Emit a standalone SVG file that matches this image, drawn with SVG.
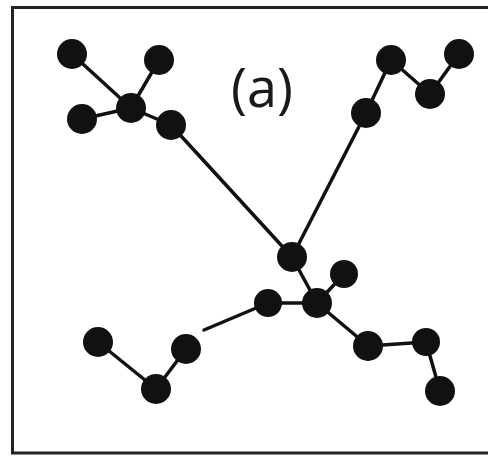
<svg xmlns="http://www.w3.org/2000/svg" width="488" height="459" viewBox="0 0 488 459">
<style>
.n{fill:#111}
.e line{stroke:#111;stroke-width:3.5;stroke-linecap:round}
.lbl{font-family:"Open Sans","Noto Sans",sans-serif;font-size:54px;fill:#1a1a1a}
</style>
<rect width="488" height="459" fill="#fff"/>
<path d="M490 7.5 H12.5 V453 H490" fill="none" stroke="#222" stroke-width="3"/>
<g id="edges" class="e">
<line x1="72" y1="54" x2="131" y2="108"/>
<line x1="159" y1="60" x2="131" y2="108"/>
<line x1="82" y1="119" x2="131" y2="108"/>
<line x1="131" y1="108" x2="171" y2="125"/>
<line x1="171" y1="125" x2="292" y2="257"/>
<line x1="366" y1="113" x2="292" y2="257"/>
<line x1="366" y1="113" x2="391" y2="60"/>
<line x1="391" y1="60" x2="430" y2="94"/>
<line x1="430" y1="94" x2="459" y2="54"/>
<line x1="292" y1="257" x2="317" y2="303"/>
<line x1="344" y1="274" x2="317" y2="303"/>
<line x1="268" y1="303" x2="317" y2="303"/>
<line x1="317" y1="303" x2="368" y2="346"/>
<line x1="368" y1="346" x2="426" y2="342"/>
<line x1="426" y1="342" x2="440" y2="391"/>
<line x1="98" y1="342" x2="156" y2="389"/>
<line x1="156" y1="389" x2="186" y2="349"/>
<line x1="204" y1="330" x2="268" y2="303"/>
</g>
<g id="nA"><circle class="n" cx="72" cy="54" r="15"/></g>
<g id="nB"><circle class="n" cx="159" cy="60" r="15"/></g>
<g id="nC"><circle class="n" cx="82" cy="119" r="15"/></g>
<g id="nD"><circle class="n" cx="131" cy="108" r="15"/></g>
<g id="nE"><circle class="n" cx="171" cy="125" r="15"/></g>
<g id="nF"><circle class="n" cx="391" cy="60" r="15"/></g>
<g id="nG"><circle class="n" cx="459" cy="54" r="15"/></g>
<g id="nH"><circle class="n" cx="430" cy="94" r="15"/></g>
<g id="nI"><circle class="n" cx="366" cy="113" r="15"/></g>
<g id="nJ"><circle class="n" cx="292" cy="257" r="15"/></g>
<g id="nK"><circle class="n" cx="344" cy="274" r="14"/></g>
<g id="nL"><circle class="n" cx="268" cy="303" r="14"/></g>
<g id="nM"><circle class="n" cx="317" cy="303" r="15"/></g>
<g id="nN"><circle class="n" cx="368" cy="346" r="15"/></g>
<g id="nO"><circle class="n" cx="426" cy="342" r="14"/></g>
<g id="nP"><circle class="n" cx="440" cy="391" r="15"/></g>
<g id="nQ"><circle class="n" cx="98" cy="342" r="15"/></g>
<g id="nR"><circle class="n" cx="156" cy="389" r="15"/></g>
<g id="nS"><circle class="n" cx="186" cy="349" r="15"/></g>
<g id="label"><text class="lbl" x="262" y="107" text-anchor="middle">(a)</text></g>
</svg>
